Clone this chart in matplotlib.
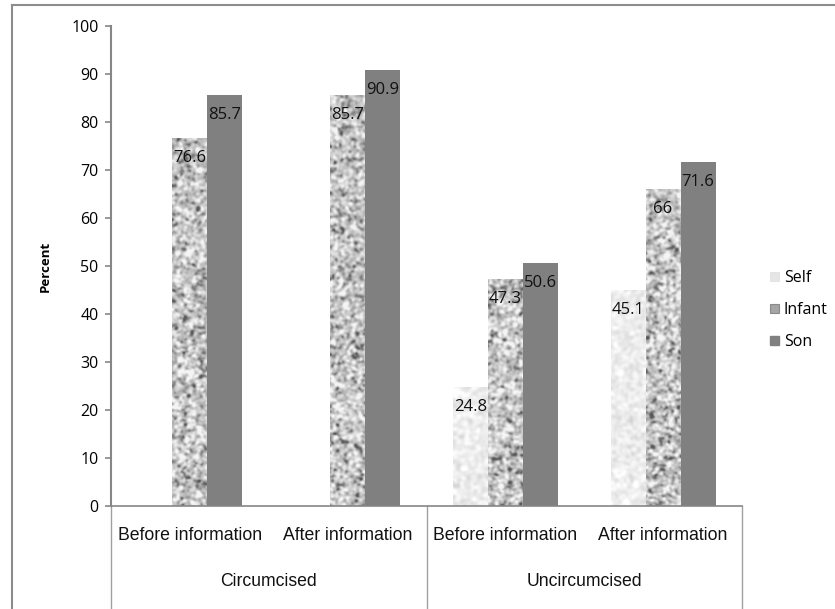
import numpy as np
import matplotlib
matplotlib.use("Agg")
import matplotlib.pyplot as plt
from matplotlib.patches import Patch
from matplotlib.lines import Line2D

# ---- data -------------------------------------------------------------
groups = ["Circumcised", "Uncircumcised"]
stages = ["Before information", "After information",
          "Before information", "After information"]
series = ["Self", "Infant", "Son"]
self_vals = [np.nan, np.nan, 24.8, 45.1]
infant_vals = [76.6, 85.7, 47.3, 66.0]
son_vals = [85.7, 90.9, 50.6, 71.6]
y_ticks = [0, 10, 20, 30, 40, 50, 60, 70, 80, 90, 100]

W, H, DPI = 835, 609, 100
fig = plt.figure(figsize=(W / DPI, H / DPI), dpi=DPI)

# axes box in pixel coordinates
left_px, right_px, top_px, bot_px = 111, 742, 26, 506
ax = fig.add_axes([left_px / W, (H - bot_px) / H,
                   (right_px - left_px) / W, (bot_px - top_px) / H])

num_font = "Open Sans"
cat_font = "Liberation Sans"
axis_grey = "#868686"

n_cat = len(stages)
x = np.arange(n_cat)
bar_w = 1.0 / 4.5
offsets = [-bar_w, 0.0, bar_w]

ax.set_xlim(-0.5, n_cat - 0.5)
ax.set_ylim(0, 100)


def granite(h, w, sigma, seed):
    """Blotchy grey texture made from smoothed noise."""
    rng = np.random.default_rng(seed)
    z = rng.standard_normal((h, w))
    ky = np.fft.fftfreq(h)[:, None]
    kx = np.fft.fftfreq(w)[None, :]
    filt = np.exp(-2 * (np.pi * sigma) ** 2 * (kx ** 2 + ky ** 2))
    z = np.real(np.fft.ifft2(np.fft.fft2(z) * filt))
    z = (z - z.mean()) / z.std()
    return z


tex_h, tex_w = bot_px - top_px, right_px - left_px
g = granite(tex_h, tex_w, 1.3, 7)
# mostly light grey with darker speckles
infant_tex = np.clip(0.77 + 0.11 * g - 0.08 * np.clip(-g - 0.8, 0, None),
                     0.35, 0.96)
self_tex = np.clip(0.93 + 0.03 * granite(tex_h, tex_w, 1.6, 11), 0.82, 1.0)

extent = (-0.5, n_cat - 0.5, 0, 100)
label_offset = -20  # pixels below bar top

for vals, off, kind in [(self_vals, offsets[0], "self"),
                        (infant_vals, offsets[1], "infant"),
                        (son_vals, offsets[2], "son")]:
    v = np.array(vals, dtype=float)
    mask = ~np.isnan(v)
    face = "#808080" if kind == "son" else "none"
    bars = ax.bar(x[mask] + off, v[mask], width=bar_w, color=face,
                  edgecolor="none", zorder=2)
    if kind != "son":
        tex = infant_tex if kind == "infant" else self_tex
        for b in bars:
            im = ax.imshow(tex, cmap="gray", vmin=0, vmax=1, extent=extent,
                           aspect="auto", interpolation="bilinear",
                           origin="upper", zorder=2)
            im.set_clip_path(b)
    for xi, vi in zip(x[mask] + off, v[mask]):
        txt = f"{vi:g}"
        ax.annotate(txt, (xi, vi), xytext=(0, label_offset * 72 / DPI),
                    textcoords="offset points", ha="center", va="center",
                    fontsize=12, family=num_font, color="#111111", zorder=5)

ax.set_xlim(-0.5, n_cat - 0.5)
ax.set_ylim(0, 100)

# axis styling
for s in ["top", "right"]:
    ax.spines[s].set_visible(False)
ax.spines["left"].set_color(axis_grey)
ax.spines["left"].set_linewidth(1.5)
ax.spines["bottom"].set_color(axis_grey)
ax.spines["bottom"].set_linewidth(1.2)
ax.set_yticks(y_ticks)
ax.set_yticklabels([str(t) for t in y_ticks], family=num_font, fontsize=11.5)
ax.tick_params(axis="y", direction="out", length=4, width=1.2,
               color=axis_grey, pad=5)
ax.set_xticks([])
ax.set_ylabel("Percent", fontsize=9.5, fontweight="bold", family=num_font,
              labelpad=14)

# two-level category labels with group separators
trans = ax.get_xaxis_transform()
for xi, st in zip(x, stages):
    ax.text(xi, -29 / 480, st, transform=trans, ha="center", va="center",
            fontsize=12.7, family=cat_font, color="#111111")
for gi, grp in enumerate(groups):
    ax.text(gi * 2 + 0.5, -75 / 480, grp, transform=trans, ha="center",
            va="center", fontsize=12.7, family=cat_font, color="#111111")
for xs in [-0.5, 1.5, 3.5]:
    ax.add_line(Line2D([xs, xs], [0, -110 / 480], transform=trans,
                       color="#a0a0a0", lw=1.0, clip_on=False))

# legend
handles = [Patch(facecolor="#e6e6e6", edgecolor="#dddddd", lw=0.5),
           Patch(facecolor="#a5a5a5", edgecolor="#8a8a8a", lw=0.8),
           Patch(facecolor="#808080", edgecolor="#808080")]
fig.legend(handles, series, loc="center left",
           bbox_to_anchor=(756 / W, (H - 310) / H), frameon=False,
           prop={"family": num_font, "size": 11.5}, handlelength=0.55,
           handleheight=0.55, handletextpad=0.3, labelspacing=1.0)

# outer chart frame
fig.add_artist(Line2D([12 / W, 12 / W], [0, 1 - 5 / H], color="#8c8c8c",
                      lw=1.5, transform=fig.transFigure))
fig.add_artist(Line2D([12 / W, 1], [1 - 5 / H, 1 - 5 / H], color="#8c8c8c",
                      lw=1.5, transform=fig.transFigure))

fig.savefig("out.png", dpi=DPI)
